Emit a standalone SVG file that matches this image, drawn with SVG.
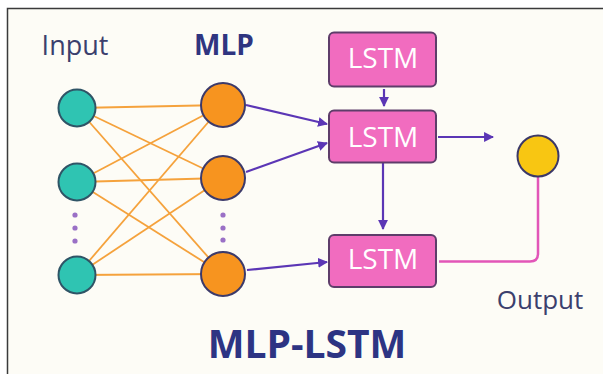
<svg xmlns="http://www.w3.org/2000/svg" width="603" height="374" viewBox="0 0 603 374">
<defs>
<style>
.lbl{font-family:"Open Sans","Noto Sans",sans-serif;}
.inp{fill:#2fc4b2;stroke:#2f5466;stroke-width:2;}
.mlp{fill:#f7941f;stroke:#3c3a6a;stroke-width:2;}
.out{fill:#f8c612;stroke:#3b3868;stroke-width:2;}
.box{fill:#f16cbf;stroke:#5e3d6a;stroke-width:2;}
.btxt{fill:#ffffff;font-size:28px;font-weight:500;text-anchor:middle;}
.ol{stroke:#f5a23c;stroke-width:1.8;fill:none;}
.pa{stroke:#5b36b5;stroke-width:2.2;fill:none;marker-end:url(#ah);}
.dot{fill:#9a70c6;}
</style>
<marker id="ah" viewBox="0 0 10 10" refX="9" refY="5" markerWidth="4.5" markerHeight="4.5" orient="auto" markerUnits="strokeWidth">
<path d="M0,0 L10,5 L0,10 Z" fill="#5b36b5"/>
</marker>
</defs>
<rect x="0" y="0" width="603" height="374" fill="#ffffff"/>
<rect x="7.5" y="8.5" width="600" height="370" fill="#fdfcf6" stroke="#3a3a3a" stroke-width="1.5"/>
<text class="lbl" x="75" y="55" font-size="27" font-weight="500" fill="#3b3f6d" text-anchor="middle">Input</text>
<text class="lbl" x="224" y="55" font-size="28" font-weight="700" fill="#2f3580" text-anchor="middle">MLP</text>
<g id="connectors">
<g id="dense">
<line class="ol" x1="77" y1="108" x2="223" y2="105"/>
<line class="ol" x1="77" y1="108" x2="223" y2="178"/>
<line class="ol" x1="77" y1="108" x2="223" y2="274"/>
<line class="ol" x1="77" y1="182" x2="223" y2="105"/>
<line class="ol" x1="77" y1="182" x2="223" y2="178"/>
<line class="ol" x1="77" y1="182" x2="223" y2="274"/>
<line class="ol" x1="77" y1="275" x2="223" y2="105"/>
<line class="ol" x1="77" y1="275" x2="223" y2="178"/>
<line class="ol" x1="77" y1="275" x2="223" y2="274"/>
</g>
<line class="pa" x1="246" y1="105" x2="327" y2="124"/>
<line class="pa" x1="246" y1="172" x2="327" y2="143"/>
<line class="pa" x1="247" y1="270" x2="327" y2="262"/>
<line class="pa" x1="384" y1="89" x2="384" y2="106"/>
<line class="pa" x1="383" y1="163" x2="383" y2="229"/>
<line class="pa" x1="438" y1="137" x2="493" y2="137"/>
<path d="M439,261.5 H530 Q538,261.5 538,253.5 V177" stroke="#e256b8" stroke-width="2.5" fill="none"/>
</g>
<g id="input-nodes">
<circle class="inp" cx="77" cy="108" r="18.5"/>
<circle class="inp" cx="77" cy="182" r="18.5"/>
<circle class="inp" cx="77" cy="275" r="18.5"/>
<circle class="dot" cx="75" cy="215" r="2.6"/>
<circle class="dot" cx="75" cy="228" r="2.6"/>
<circle class="dot" cx="75" cy="241" r="2.6"/>
</g>
<g id="mlp-nodes">
<circle class="mlp" cx="223" cy="105" r="22"/>
<circle class="mlp" cx="223" cy="178" r="22"/>
<circle class="mlp" cx="223" cy="274" r="22"/>
<circle class="dot" cx="223" cy="215" r="2.6"/>
<circle class="dot" cx="223" cy="228" r="2.6"/>
<circle class="dot" cx="223" cy="240" r="2.6"/>
</g>
<g id="lstm-top">
<rect class="box" x="329" y="32.5" width="107" height="54" rx="5"/>
<text class="lbl btxt" x="383" y="68">LSTM</text>
</g>
<g id="lstm-mid">
<rect class="box" x="329" y="110.5" width="107" height="52" rx="5"/>
<text class="lbl btxt" x="383" y="147">LSTM</text>
</g>
<g id="lstm-bottom">
<rect class="box" x="329" y="235" width="107" height="52" rx="5"/>
<text class="lbl btxt" x="383" y="269">LSTM</text>
</g>
<g id="output-node">
<circle class="out" cx="538" cy="156" r="20.5"/>
</g>
<text class="lbl" x="540" y="309" font-size="26" font-weight="500" fill="#3b3f6d" text-anchor="middle">Output</text>
<text class="lbl" x="307" y="358" font-size="39" font-weight="700" fill="#2d3483" text-anchor="middle">MLP-LSTM</text>
</svg>
